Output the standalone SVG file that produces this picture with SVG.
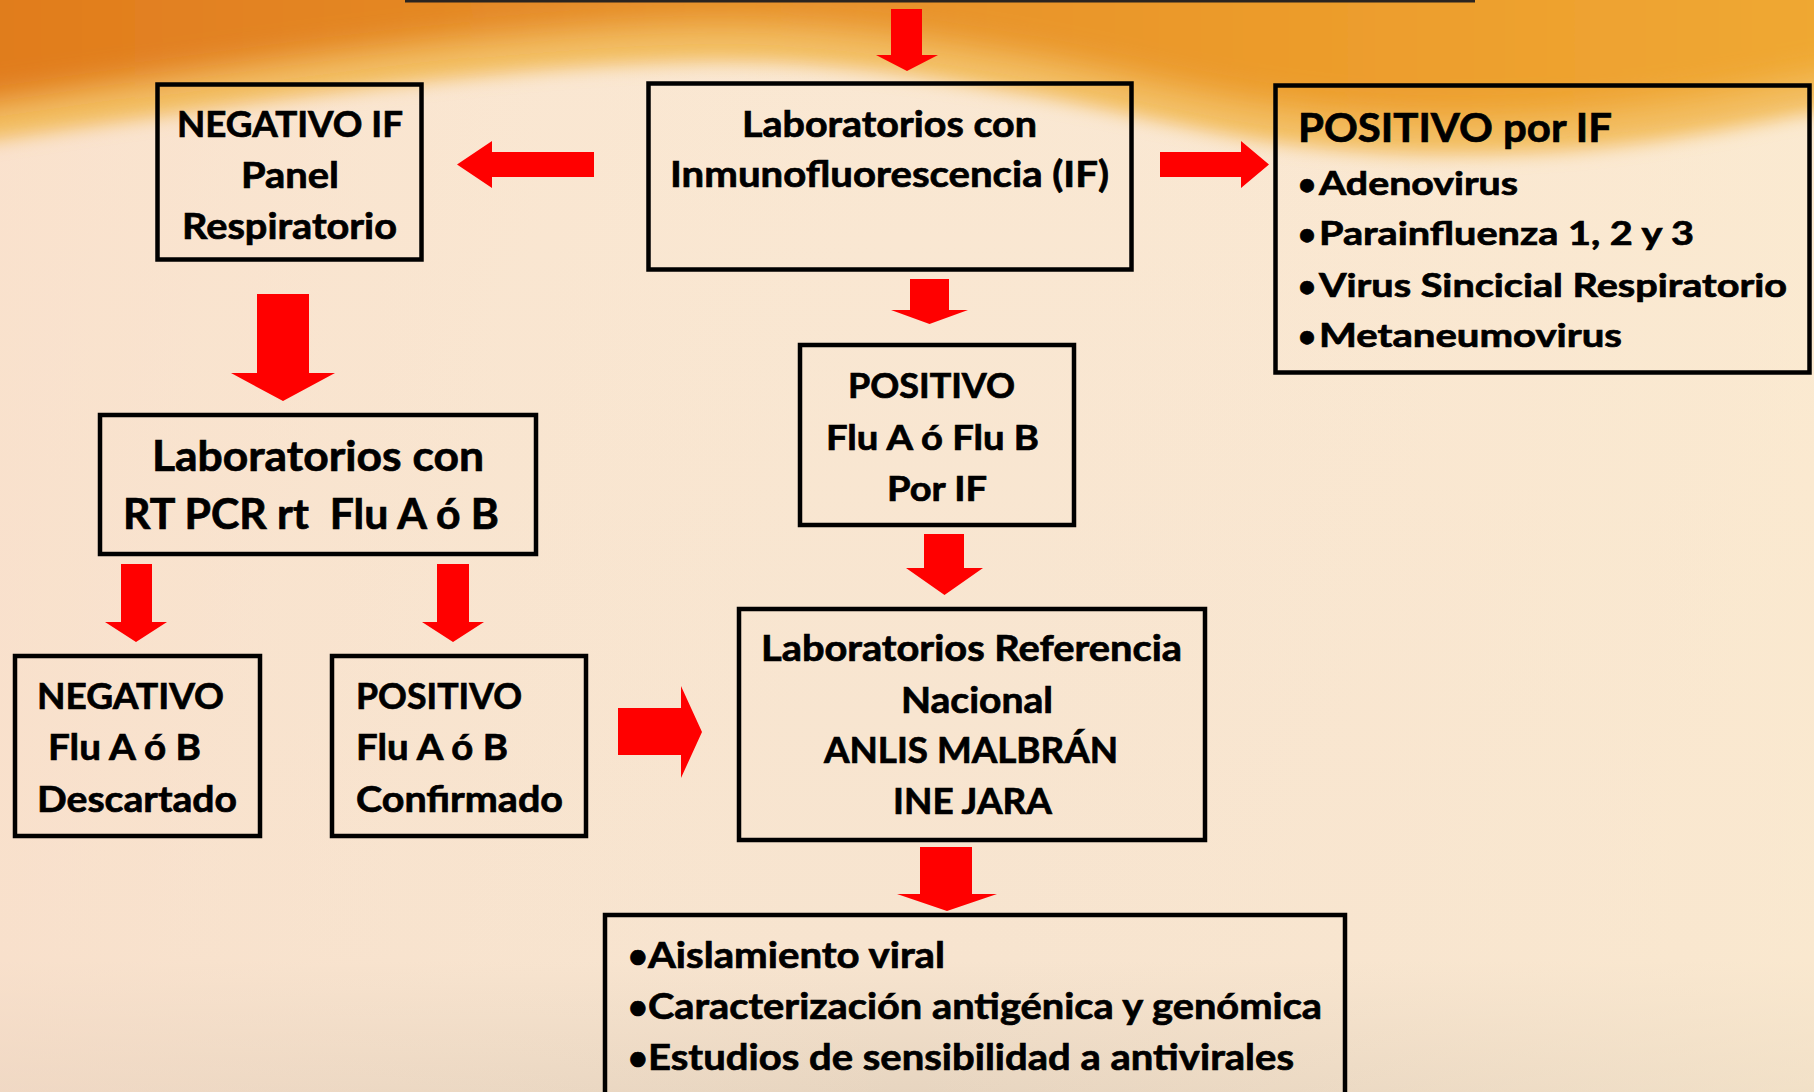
<svg xmlns="http://www.w3.org/2000/svg" width="1814" height="1092" viewBox="0 0 1814 1092">
<style>
.box{fill:none;stroke:#000;stroke-width:4.5}
.t{font-family:"Lato","Open Sans","Liberation Sans",sans-serif;font-weight:700;fill:#000;stroke:#000;stroke-width:0.7}
.arrow{fill:#FF0000}
</style>
<defs>
<linearGradient id="bg" x1="0" y1="0" x2="0" y2="1">
<stop offset="0" stop-color="#FAE8D3"/>
<stop offset="0.88" stop-color="#F7E4CF"/>
<stop offset="1" stop-color="#E7D5C0"/>
</linearGradient>
<linearGradient id="bgx" x1="0" y1="0" x2="1" y2="0">
<stop offset="0" stop-color="#F9DCC8" stop-opacity="0.5"/>
<stop offset="0.5" stop-color="#FAE6D0" stop-opacity="0"/>
<stop offset="1" stop-color="#FCECCF" stop-opacity="0.5"/>
</linearGradient>
<linearGradient id="org" x1="0" y1="0" x2="1" y2="0">
<stop offset="0" stop-color="#E07A1C"/>
<stop offset="0.4" stop-color="#E68E28"/>
<stop offset="0.7" stop-color="#EC9C2C"/>
<stop offset="1" stop-color="#F0AA34"/>
</linearGradient>
<filter id="blurA" filterUnits="userSpaceOnUse" x="-200" y="-200" width="2214" height="500"><feGaussianBlur stdDeviation="9"/></filter>
<filter id="blurB" filterUnits="userSpaceOnUse" x="-200" y="-200" width="2214" height="500"><feGaussianBlur stdDeviation="16"/></filter>
</defs>
<rect x="0" y="0" width="1814" height="1092" fill="url(#bg)"/>
<rect x="0" y="0" width="1814" height="1092" fill="url(#bgx)"/>
<path d="M-100,-100 L1914,-100 L1914,95 C1750,120 1650,155 1450,155 C1250,155 1150,112 1000,90 C900,72 800,60 700,62 C500,66 250,102 -100,155 Z" fill="#F3C066" filter="url(#blurA)"/>
<path d="M-100,-100 L1914,-100 L1914,60 C1750,85 1650,118 1450,118 C1250,118 1150,74 1000,52 C900,34 800,22 700,24 C500,28 250,64 -100,116 Z" fill="url(#org)" filter="url(#blurB)"/>
<rect x="405" y="0" width="1070" height="2.5" fill="#2A2420"/>

<g id="connectors">
<polygon class="arrow" points="891,9 922,9 922,55 938,55 907,71 876,55 891,55"/>
<polygon class="arrow" points="594,152 594,177 492,177 492,188 457,164.5 492,141 492,152"/>
<polygon class="arrow" points="1160,152 1241,152 1241,141 1269,164.5 1241,188 1241,177 1160,177"/>
<polygon class="arrow" points="910,279 949,279 949,310 968,310 929.5,324 891,310 910,310"/>
<polygon class="arrow" points="924,534 964,534 964,568 983,568 944.5,595 906,568 924,568"/>
<polygon class="arrow" points="257,294 309,294 309,373 335,373 283,401 231,373 257,373"/>
<polygon class="arrow" points="121,564 152,564 152,622 167,622 136,642 105,622 121,622"/>
<polygon class="arrow" points="437,564 469,564 469,622 484,622 453,642 422,622 437,622"/>
<polygon class="arrow" points="618,708 681,708 681,686 702,732 681,778 681,755 618,755"/>
<polygon class="arrow" points="920,847 972,847 972,894 997,894 947,911 897,894 920,894"/>
</g>

<g id="neg-if">
<rect class="box" x="157.5" y="84.5" width="264" height="175"/>
<text class="t" x="177" y="137" font-size="36" textLength="226" lengthAdjust="spacingAndGlyphs">NEGATIVO IF</text>
<text class="t" x="241" y="188" font-size="36" textLength="98" lengthAdjust="spacingAndGlyphs">Panel</text>
<text class="t" x="182" y="239" font-size="36" textLength="215" lengthAdjust="spacingAndGlyphs">Respiratorio</text>
</g>

<g id="lab-if">
<rect class="box" x="648.5" y="83.5" width="483" height="186"/>
<text class="t" x="742" y="137" font-size="37" textLength="295" lengthAdjust="spacingAndGlyphs">Laboratorios con</text>
<text class="t" x="670" y="187" font-size="37" textLength="439" lengthAdjust="spacingAndGlyphs">Inmunofluorescencia (IF)</text>
</g>

<g id="pos-if">
<rect class="box" x="1275.5" y="85.5" width="534" height="287"/>
<text class="t" x="1298" y="142" font-size="40" textLength="314" lengthAdjust="spacingAndGlyphs">POSITIVO por IF</text>
<text class="t" x="1298" y="195" font-size="31">•</text>
<text class="t" x="1319" y="195" font-size="33" textLength="199" lengthAdjust="spacingAndGlyphs">Adenovirus</text>
<text class="t" x="1298" y="245" font-size="31">•</text>
<text class="t" x="1319" y="245" font-size="33" textLength="375" lengthAdjust="spacingAndGlyphs">Parainfluenza 1, 2 y 3</text>
<text class="t" x="1298" y="297" font-size="31">•</text>
<text class="t" x="1319" y="297" font-size="33" textLength="468" lengthAdjust="spacingAndGlyphs">Virus Sincicial Respiratorio</text>
<text class="t" x="1298" y="347" font-size="31">•</text>
<text class="t" x="1319" y="347" font-size="33" textLength="303" lengthAdjust="spacingAndGlyphs">Metaneumovirus</text>
</g>

<g id="pos-flu-if">
<rect class="box" x="800" y="345" width="274" height="180"/>
<text class="t" x="848" y="398" font-size="34" textLength="167" lengthAdjust="spacingAndGlyphs">POSITIVO</text>
<text class="t" x="826" y="450" font-size="34" textLength="213" lengthAdjust="spacingAndGlyphs">Flu A ó Flu B</text>
<text class="t" x="887" y="501" font-size="34" textLength="100" lengthAdjust="spacingAndGlyphs">Por IF</text>
</g>

<g id="lab-rtpcr">
<rect class="box" x="100" y="415" width="436" height="139"/>
<text class="t" x="152" y="471" font-size="42" textLength="332" lengthAdjust="spacingAndGlyphs">Laboratorios con</text>
<text class="t" x="123" y="529" font-size="42" textLength="376" lengthAdjust="spacingAndGlyphs">RT PCR rt&#160; Flu A ó B</text>
</g>

<g id="neg-flu">
<rect class="box" x="15" y="656" width="245" height="180"/>
<text class="t" x="37" y="709" font-size="37" textLength="187" lengthAdjust="spacingAndGlyphs">NEGATIVO</text>
<text class="t" x="48" y="760" font-size="37" textLength="153" lengthAdjust="spacingAndGlyphs">Flu A ó B</text>
<text class="t" x="37" y="812" font-size="37" textLength="200" lengthAdjust="spacingAndGlyphs">Descartado</text>
</g>

<g id="pos-flu">
<rect class="box" x="332" y="656" width="254" height="180"/>
<text class="t" x="356" y="709" font-size="37" textLength="166" lengthAdjust="spacingAndGlyphs">POSITIVO</text>
<text class="t" x="356" y="760" font-size="37" textLength="152" lengthAdjust="spacingAndGlyphs">Flu A ó B</text>
<text class="t" x="356" y="812" font-size="37" textLength="207" lengthAdjust="spacingAndGlyphs">Confirmado</text>
</g>

<g id="lab-ref">
<rect class="box" x="739" y="609" width="466" height="231"/>
<text class="t" x="761" y="661" font-size="36" textLength="421" lengthAdjust="spacingAndGlyphs">Laboratorios Referencia</text>
<text class="t" x="901" y="713" font-size="36" textLength="152" lengthAdjust="spacingAndGlyphs">Nacional</text>
<text class="t" x="824" y="763" font-size="36" textLength="294" lengthAdjust="spacingAndGlyphs">ANLIS MALBRÁN</text>
<text class="t" x="893" y="814" font-size="36" textLength="159" lengthAdjust="spacingAndGlyphs">INE JARA</text>
</g>

<g id="estudios">
<rect class="box" x="605" y="915" width="740" height="300"/>
<text class="t" x="628" y="968" font-size="34">•</text>
<text class="t" x="648" y="968" font-size="37" textLength="297" lengthAdjust="spacingAndGlyphs">Aislamiento viral</text>
<text class="t" x="628" y="1019" font-size="34">•</text>
<text class="t" x="648" y="1019" font-size="37" textLength="674" lengthAdjust="spacingAndGlyphs">Caracterización antigénica y genómica</text>
<text class="t" x="628" y="1070" font-size="34">•</text>
<text class="t" x="648" y="1070" font-size="37" textLength="646" lengthAdjust="spacingAndGlyphs">Estudios de sensibilidad a antivirales</text>
</g>
</svg>
